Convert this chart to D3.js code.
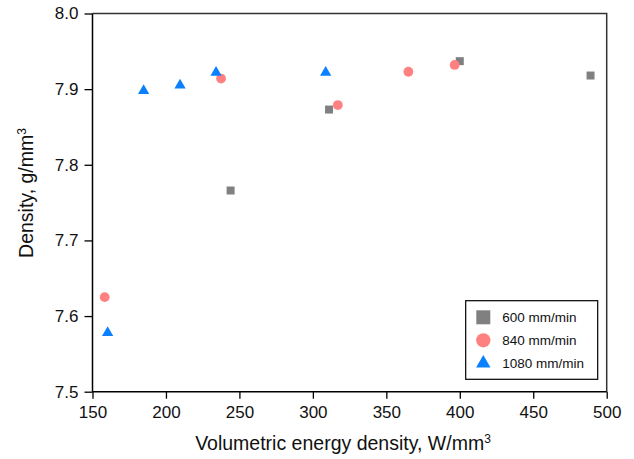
<!DOCTYPE html>
<html>
<head>
	<meta charset="utf-8">
	<script src="https://cdnjs.cloudflare.com/ajax/libs/d3/7.8.5/d3.min.js"></script>
	<style>
		body { margin: 0; background: #fff; }
		text { font-family: Arial, 'Liberation Sans', sans-serif; fill: #111; }
	</style>
</head>
<body>
	<div id="chartDiv"></div>
	<script>
		// series: energy density (W/mm3) and density (g/mm3)
		const seriesNames = ['600 mm/min', '840 mm/min', '1080 mm/min'];
		const energy600 = [244, 311, 400, 489];
		const density600 = [7.766, 7.873, 7.937, 7.918];
		const energy840 = [158.3, 237.5, 317, 365, 396.5];
		const density840 = [7.625, 7.914, 7.879, 7.923, 7.932];
		const energy1080 = [160.3, 184.8, 209.6, 234.1, 308.7];
		const density1080 = [7.578, 7.898, 7.905, 7.922, 7.922];

		const xTicks = [150, 200, 250, 300, 350, 400, 450, 500];
		const yTicks = [7.5, 7.6, 7.7, 7.8, 7.9, 8.0];

		const width = 634, height = 459;
		const margin = { left: 92.5, right: 27.3, top: 13.5, bottom: 67.3 };
		const innerW = width - margin.left - margin.right;
		const innerH = height - margin.top - margin.bottom;

		const svg = d3.select('#chartDiv').append('svg')
			.attr('width', width)
			.attr('height', height);
		const g = svg.append('g').attr('transform', `translate(${margin.left},${margin.top})`);

		const xScale = d3.scaleLinear().domain([150, 500]).range([0, innerW]);
		const yScale = d3.scaleLinear().domain([7.5, 8.0]).range([innerH, 0]);

		// frame (top / right)
		g.append('path')
			.attr('d', `M0,0H${innerW}V${innerH}`)
			.attr('fill', 'none')
			.attr('stroke', '#333')
			.attr('stroke-width', 1.5);

		const xAxis = d3.axisBottom(xScale).tickValues(xTicks).tickSize(7).tickPadding(7)
			.tickFormat(d3.format('d'));
		const yAxis = d3.axisLeft(yScale).tickValues(yTicks).tickSize(8).tickPadding(6)
			.tickFormat(d3.format('.1f'));

		const xAxisG = g.append('g').attr('transform', `translate(0,${innerH})`).call(xAxis);
		const yAxisG = g.append('g').call(yAxis);

		[xAxisG, yAxisG].forEach(a => {
			a.select('.domain').attr('stroke', '#000').attr('stroke-width', 1.5);
			a.selectAll('.tick line').attr('stroke', '#000').attr('stroke-width', 1.3);
			a.selectAll('.tick text').style('font-size', '17px').attr('fill', '#111');
		});
		yAxisG.select('.domain').attr('d', `M0,${innerH}V0`);
		xAxisG.select('.domain').attr('d', `M0,0H${innerW}`);

		// axis titles
		const xTitle = svg.append('text')
			.attr('x', 343)
			.attr('y', 450)
			.attr('text-anchor', 'middle')
			.style('font-size', '19.5px');
		xTitle.append('tspan').text('Volumetric energy density, W/mm');
		xTitle.append('tspan').attr('dy', -7).style('font-size', '12px').text('3');

		const yTitle = svg.append('text')
			.attr('transform', 'translate(33,193) rotate(-90)')
			.attr('text-anchor', 'middle')
			.style('font-size', '19.5px');
		yTitle.append('tspan').text('Density, g/mm');
		yTitle.append('tspan').attr('dy', -7).style('font-size', '12px').text('3');

		const series = [
			{ name: seriesNames[0], xs: energy600, ys: density600, type: d3.symbolSquare, color: '#808080', size: 64, legendSize: 196 },
			{ name: seriesNames[1], xs: energy840, ys: density840, type: d3.symbolCircle, color: '#ff8080', size: 75, legendSize: 160 },
			{ name: seriesNames[2], xs: energy1080, ys: density1080, type: d3.symbolTriangle, color: '#0a80ff', size: 55, legendSize: 90 }
		];

		series.forEach(s => {
			const pts = s.xs.map((x, i) => ({ x: x, y: s.ys[i] }));
			g.selectAll(null)
				.data(pts)
				.enter().append('path')
				.attr('transform', d => `translate(${xScale(d.x)},${yScale(d.y)})`)
				.attr('d', d3.symbol().type(s.type).size(s.size))
				.attr('fill', s.color);
		});

		// legend
		const legend = svg.append('g').attr('transform', 'translate(465.7,300.7)');
		legend.append('rect')
			.attr('width', 132).attr('height', 78.6)
			.attr('fill', '#fff')
			.attr('stroke', '#000')
			.attr('stroke-width', 1.2);
		series.forEach((s, i) => {
			const row = legend.append('g').attr('transform', `translate(17.6,${16.6 + i * 23})`);
			row.append('path')
				.attr('d', d3.symbol().type(s.type).size(s.legendSize))
				.attr('fill', s.color);
			row.append('text')
				.attr('x', 19)
				.attr('y', 5)
				.style('font-size', '13.5px')
				.text(s.name);
		});
	</script>
</body>
</html>
